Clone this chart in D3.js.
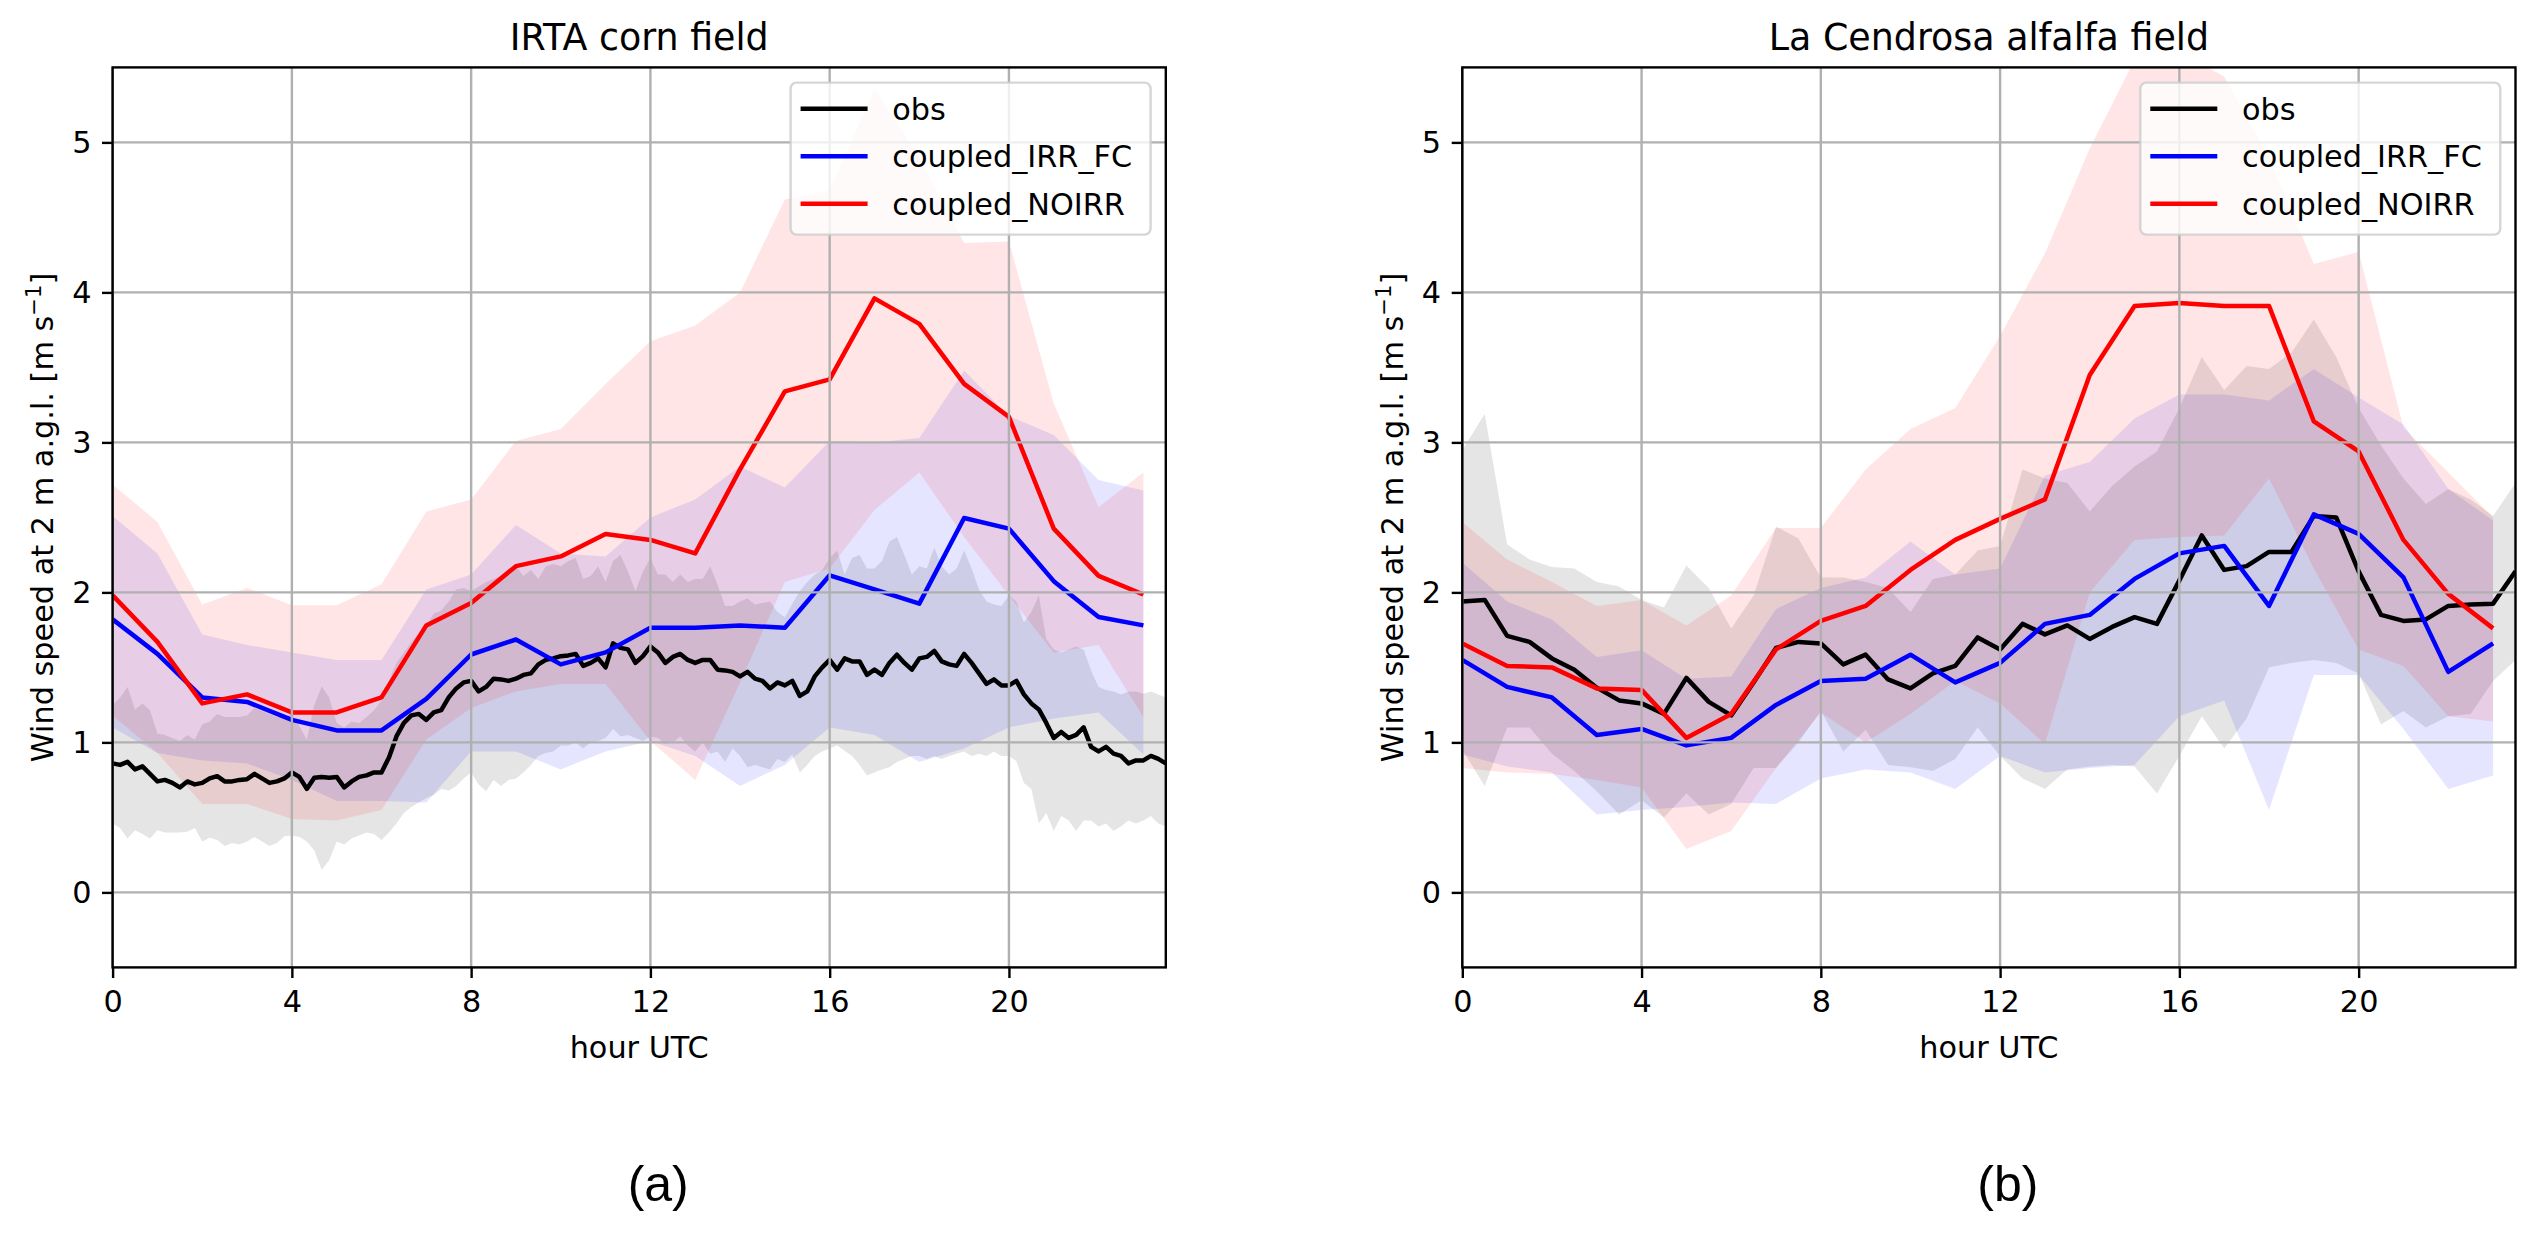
<!DOCTYPE html>
<html>
<head>
<meta charset="utf-8">
<script src="https://cdn.jsdelivr.net/npm/d3@7"></script>
<style>
  body { margin: 0; background: #fff; }
  svg { display: block; }
  text { font-family: "DejaVu Sans", sans-serif; fill: #000; }
</style>
</head>
<body>
<svg id="chart" width="2538" height="1233"></svg>
<script>
// ---- data ----
const seriesNames = ["obs", "coupled_IRR_FC", "coupled_NOIRR"];
const xTicks = [0, 4, 8, 12, 16, 20];
const yTicks = [0, 1, 2, 3, 4, 5];

// (a) IRTA corn field -- obs every 10 min, models hourly
const obsA = [
  0.86, 0.85, 0.87, 0.82, 0.84, 0.79, 0.74, 0.75, 0.73, 0.70,
  0.74, 0.72, 0.73, 0.76, 0.775, 0.74, 0.74, 0.75, 0.755, 0.79,
  0.76, 0.73, 0.74, 0.76, 0.80, 0.77, 0.69, 0.765, 0.77, 0.765,
  0.77, 0.70, 0.74, 0.77, 0.78, 0.80, 0.80, 0.90, 1.04, 1.13,
  1.18, 1.19, 1.15, 1.20, 1.215, 1.30, 1.36, 1.40, 1.41, 1.34,
  1.37, 1.425, 1.42, 1.41, 1.425, 1.45, 1.46, 1.52, 1.55, 1.56,
  1.575, 1.58, 1.59, 1.51, 1.53, 1.56, 1.50, 1.66, 1.63, 1.62,
  1.53, 1.575, 1.64, 1.60, 1.53, 1.57, 1.59, 1.55, 1.53, 1.55,
  1.55, 1.485, 1.48, 1.47, 1.44, 1.47, 1.425, 1.41, 1.36, 1.40,
  1.38, 1.41, 1.31, 1.34, 1.44, 1.50, 1.55, 1.485, 1.56, 1.54,
  1.54, 1.45, 1.485, 1.45, 1.53, 1.585, 1.53, 1.485, 1.56, 1.57,
  1.61, 1.54, 1.52, 1.51, 1.59, 1.53, 1.46, 1.39, 1.42, 1.38,
  1.38, 1.41, 1.32, 1.26, 1.22, 1.13, 1.03, 1.07, 1.03, 1.05,
  1.10, 0.97, 0.94, 0.97, 0.925, 0.91, 0.86, 0.88, 0.88, 0.91,
  0.89, 0.86
];
const obsHiA = [
  1.25, 1.30, 1.37, 1.22, 1.26, 1.215, 1.06, 1.05, 1.03, 1.01,
  1.05, 1.02, 1.12, 1.14, 1.19, 1.17, 1.17, 1.17, 1.18, 1.23,
  1.21, 1.19, 1.17, 1.17, 1.19, 1.11, 1.02, 1.25, 1.375, 1.30,
  1.13, 1.10, 1.14, 1.13, 1.17, 1.215, 1.28, 1.415, 1.53, 1.60,
  1.67, 1.73, 1.78, 1.86, 1.88, 1.94, 2.02, 2.03, 2.01, 2.04,
  2.07, 2.09, 2.11, 2.13, 2.175, 2.11, 2.15, 2.09, 2.175, 2.19,
  2.175, 2.21, 2.23, 2.09, 2.11, 2.175, 2.07, 2.21, 2.25, 2.14,
  2.01, 2.14, 2.23, 2.12, 2.12, 2.07, 2.12, 2.07, 2.09, 2.09,
  2.175, 2.05, 1.91, 1.91, 1.94, 1.96, 1.92, 1.93, 1.94, 1.87,
  1.835, 1.925, 2.01, 2.07, 2.12, 2.15, 2.23, 2.28, 2.12, 2.23,
  2.25, 2.16, 2.16, 2.21, 2.34, 2.37, 2.25, 2.12, 2.175, 2.16,
  2.30, 2.175, 2.12, 2.16, 2.28, 2.16, 2.02, 1.94, 1.92, 1.91,
  1.98, 1.94, 1.80, 1.87, 1.98, 1.69, 1.62, 1.60, 1.62, 1.64,
  1.62, 1.48, 1.37, 1.35, 1.34, 1.32, 1.34, 1.34, 1.325, 1.34,
  1.32, 1.30
];
const obsLoA = [
  0.46, 0.43, 0.36, 0.415, 0.39, 0.36, 0.415, 0.40, 0.40, 0.40,
  0.405, 0.43, 0.34, 0.365, 0.35, 0.31, 0.33, 0.32, 0.34, 0.37,
  0.34, 0.31, 0.33, 0.375, 0.38, 0.37, 0.34, 0.28, 0.15, 0.215,
  0.34, 0.32, 0.36, 0.38, 0.40, 0.39, 0.35, 0.40, 0.46, 0.53,
  0.57, 0.60, 0.63, 0.65, 0.69, 0.68, 0.71, 0.76, 0.80, 0.72,
  0.675, 0.75, 0.71, 0.75, 0.76, 0.80, 0.85, 0.91, 0.93, 0.94,
  0.98, 0.98, 1.00, 0.96, 1.00, 1.01, 1.03, 1.09, 1.04, 1.05,
  1.03, 1.01, 1.04, 1.03, 0.99, 1.00, 1.04, 0.98, 0.94, 1.00,
  0.925, 0.94, 0.87, 0.96, 0.91, 0.835, 0.85, 0.835, 0.82, 0.89,
  0.87, 0.92, 0.80, 0.85, 0.91, 0.94, 0.96, 0.98, 0.945, 0.91,
  0.85, 0.78, 0.80, 0.82, 0.835, 0.87, 0.89, 0.91, 0.91, 0.89,
  0.91, 0.89, 0.91, 0.925, 0.94, 0.91, 0.925, 0.91, 0.94, 0.91,
  0.91, 0.875, 0.73, 0.69, 0.46, 0.53, 0.41, 0.51, 0.48, 0.41,
  0.48, 0.48, 0.44, 0.46, 0.41, 0.44, 0.48, 0.46, 0.48, 0.51,
  0.46, 0.44
];
const irrA     = [1.82, 1.59, 1.30, 1.27, 1.15, 1.08, 1.08, 1.29, 1.586, 1.686, 1.52, 1.60, 1.764, 1.764, 1.78, 1.764, 2.114, 2.02, 1.925, 2.496, 2.425, 2.075, 1.836, 1.78];
const irrHiA   = [2.51, 2.26, 1.72, 1.65, 1.60, 1.55, 1.55, 2.02, 2.12, 2.45, 2.26, 2.24, 2.50, 2.62, 2.84, 2.70, 3.01, 3.00, 3.03, 3.48, 3.175, 3.05, 2.75, 2.68];
const irrLoA   = [1.10, 0.93, 0.88, 0.86, 0.75, 0.61, 0.61, 0.60, 0.94, 0.94, 0.82, 0.94, 1.01, 0.91, 0.71, 0.85, 1.10, 1.05, 0.87, 0.96, 1.10, 1.16, 1.20, 0.92];
const noirrA   = [1.98, 1.67, 1.26, 1.32, 1.20, 1.20, 1.30, 1.78, 1.93, 2.175, 2.24, 2.39, 2.35, 2.26, 2.82, 3.34, 3.42, 3.96, 3.79, 3.39, 3.17, 2.425, 2.11, 1.986];
const noirrHiA = [2.72, 2.47, 1.92, 2.03, 1.915, 1.915, 2.055, 2.54, 2.62, 3.01, 3.09, 3.39, 3.675, 3.78, 4.00, 4.62, 4.68, 5.36, 4.90, 4.33, 4.34, 3.26, 2.57, 2.80];
const noirrLoA = [1.18, 0.93, 0.59, 0.59, 0.49, 0.48, 0.55, 1.02, 1.23, 1.34, 1.39, 1.39, 1.01, 0.75, 1.40, 2.07, 2.16, 2.55, 2.80, 2.37, 1.98, 1.60, 1.65, 1.17];

// (b) La Cendrosa alfalfa field -- obs every 30 min, models hourly
const obsB = [
  1.94, 1.95, 1.71, 1.67, 1.56, 1.485, 1.365, 1.28, 1.26, 1.19,
  1.43, 1.27, 1.18, 1.40, 1.63, 1.67, 1.66, 1.52, 1.585, 1.42,
  1.36, 1.46, 1.51, 1.70, 1.62, 1.79, 1.72, 1.78, 1.69, 1.77,
  1.835, 1.79, 2.08, 2.38, 2.15, 2.175, 2.27, 2.27, 2.51, 2.50,
  2.14, 1.85, 1.81, 1.82, 1.91, 1.92, 1.925, 2.14
];
const obsHiB = [
  2.95, 3.19, 2.32, 2.22, 2.17, 2.16, 2.07, 2.04, 1.95, 1.90,
  2.18, 2.03, 1.76, 1.98, 2.44, 2.36, 2.10, 2.10, 2.07, 2.03,
  1.87, 2.09, 2.12, 2.28, 2.31, 2.82, 2.76, 2.73, 2.54, 2.71,
  2.84, 2.94, 3.23, 3.57, 3.35, 3.51, 3.49, 3.60, 3.82, 3.57,
  3.23, 2.98, 2.76, 2.59, 2.69, 2.62, 2.51, 2.73
];
const obsLoB = [
  0.95, 0.71, 1.10, 1.10, 0.925, 0.81, 0.675, 0.52, 0.615, 0.50,
  0.66, 0.52, 0.59, 0.83, 0.83, 1.00, 1.21, 0.94, 1.085, 0.85,
  0.835, 0.81, 0.89, 1.10, 0.91, 0.76, 0.69, 0.82, 0.84, 0.85,
  0.84, 0.66, 0.91, 1.175, 0.96, 1.16, 1.50, 1.53, 1.55, 1.53,
  1.46, 1.12, 1.21, 1.10, 1.175, 1.19, 1.41, 1.55
];
const irrB     = [1.55, 1.37, 1.30, 1.05, 1.09, 0.98, 1.03, 1.25, 1.41, 1.425, 1.585, 1.40, 1.53, 1.79, 1.85, 2.09, 2.26, 2.31, 1.91, 2.52, 2.39, 2.10, 1.47, 1.66];
const irrHiB   = [2.20, 1.94, 1.82, 1.57, 1.615, 1.425, 1.44, 1.89, 2.03, 2.10, 2.34, 2.12, 2.16, 2.78, 2.87, 3.16, 3.32, 3.32, 3.28, 3.49, 3.30, 3.12, 2.69, 2.48];
const irrLoB   = [0.92, 0.84, 0.80, 0.52, 0.55, 0.57, 0.60, 0.59, 0.76, 0.82, 0.80, 0.69, 0.91, 0.80, 0.83, 0.85, 1.175, 1.28, 0.55, 1.45, 1.45, 1.09, 0.69, 0.78];
const noirrB   = [1.66, 1.51, 1.50, 1.36, 1.35, 1.03, 1.19, 1.62, 1.81, 1.91, 2.15, 2.35, 2.49, 2.62, 3.45, 3.91, 3.93, 3.91, 3.91, 3.14, 2.94, 2.35, 1.99, 1.76];
const noirrHiB = [2.47, 2.22, 2.07, 1.91, 1.95, 1.78, 1.98, 2.43, 2.43, 2.82, 3.09, 3.23, 3.71, 4.26, 4.96, 5.55, 5.60, 5.44, 4.90, 4.19, 4.27, 3.10, 2.80, 2.50];
const noirrLoB = [0.83, 0.80, 0.79, 0.75, 0.70, 0.29, 0.41, 0.83, 1.20, 1.00, 1.19, 1.41, 1.26, 0.99, 2.00, 2.35, 2.37, 2.38, 2.76, 2.16, 1.62, 1.51, 1.175, 1.14];

const modelHours = d3.range(irrA.length);
const obsHoursA = obsA.map((d, i) => i / 6);
const obsHoursB = obsB.map((d, i) => i / 2);

// ---- layout (px) ----
const FS = 30.3;          // 10 pt
const TICK = 10.6;        // 3.5 pt
const LW_AX = 2.4;        // 0.8 pt
const LW = 4.5;           // 1.5 pt
const AX_W = 1053.2;
const AX_TOP = 67.4, AX_BOT = 967.4;

const svg = d3.select("#chart");
const y = d3.scaleLinear().domain([-0.5, 5.5]).range([AX_BOT, AX_TOP]);

function drawPanel(p) {
  const x = d3.scaleLinear().domain([0, 23.5]).range([p.left, p.left + AX_W]);
  const g = svg.append("g");

  svg.append("clipPath").attr("id", "clip-" + p.key)
    .append("rect")
    .attr("x", p.left).attr("y", AX_TOP)
    .attr("width", AX_W).attr("height", AX_BOT - AX_TOP);

  const plot = g.append("g").attr("clip-path", `url(#clip-${p.key})`);

  const series = [
    { xs: p.obsHours, v: p.obs, lo: p.obsLo, hi: p.obsHi, color: "#000000" },
    { xs: modelHours, v: p.irr, lo: p.irrLo, hi: p.irrHi, color: "#0000ff" },
    { xs: modelHours, v: p.noirr, lo: p.noirrLo, hi: p.noirrHi, color: "#ff0000" }
  ];

  // shaded ranges (below grid, like matplotlib patches)
  series.forEach(s => {
    const area = d3.area()
      .x((d, i) => x(s.xs[i]))
      .y0((d, i) => y(s.lo[i]))
      .y1((d, i) => y(s.hi[i]));
    plot.append("path")
      .datum(s.v)
      .attr("d", area)
      .attr("fill", s.color)
      .attr("fill-opacity", 0.1);
  });

  // grid
  const grid = g.append("g").attr("stroke", "#b0b0b0").attr("stroke-width", LW_AX);
  xTicks.forEach(t => grid.append("line")
    .attr("x1", x(t)).attr("x2", x(t)).attr("y1", AX_TOP).attr("y2", AX_BOT));
  yTicks.forEach(t => grid.append("line")
    .attr("x1", p.left).attr("x2", p.left + AX_W).attr("y1", y(t)).attr("y2", y(t)));

  // lines
  series.forEach(s => {
    const line = d3.line().x((d, i) => x(s.xs[i])).y(d => y(d));
    plot.append("path")
      .datum(s.v)
      .attr("d", line)
      .attr("fill", "none")
      .attr("stroke", s.color)
      .attr("stroke-width", LW)
      .attr("stroke-linejoin", "round");
  });

  // axes
  const xAxis = g.append("g")
    .attr("transform", `translate(0,${AX_BOT})`)
    .call(d3.axisBottom(x).tickValues(xTicks).tickSize(TICK).tickPadding(12.5).tickFormat(d3.format("d")));
  const yAxis = g.append("g")
    .attr("transform", `translate(${p.left},0)`)
    .call(d3.axisLeft(y).tickValues(yTicks).tickSize(TICK).tickPadding(10.6).tickFormat(d3.format("d")));
  [xAxis, yAxis].forEach(a => {
    a.select(".domain").remove();
    a.selectAll(".tick line").attr("stroke", "#000").attr("stroke-width", LW_AX);
    a.selectAll(".tick text")
      .attr("font-family", "DejaVu Sans")
      .attr("font-size", FS)
      .attr("fill", "#000");
  });

  // spines
  g.append("rect")
    .attr("x", p.left).attr("y", AX_TOP)
    .attr("width", AX_W).attr("height", AX_BOT - AX_TOP)
    .attr("fill", "none").attr("stroke", "#000").attr("stroke-width", LW_AX);

  // title and labels
  const cx = p.left + AX_W / 2;
  g.append("text").attr("x", cx).attr("y", 50)
    .attr("text-anchor", "middle").attr("font-size", 36.4).text(p.title);
  g.append("text").attr("x", cx).attr("y", 1058)
    .attr("text-anchor", "middle").attr("font-size", FS).text("hour UTC");

  const yl = g.append("text")
    .attr("transform", `translate(${p.left - 59.6},${(AX_TOP + AX_BOT) / 2}) rotate(-90)`)
    .attr("text-anchor", "middle").attr("font-size", FS);
  yl.append("tspan").text("Wind speed at 2 m a.g.l. [m s");
  yl.append("tspan").attr("font-size", FS * 0.7).attr("dy", -12).text("\u22121");
  yl.append("tspan").attr("dy", 12).text("]");

  g.append("text").attr("x", cx + 19).attr("y", 1201)
    .attr("text-anchor", "middle")
    .style("font-family", "'Liberation Sans', Arial, sans-serif")
    .attr("font-size", 50).text(p.tag);

  // legend
  const lx = p.left + AX_W - 15.2 - 360;
  const leg = g.append("g");
  leg.append("rect")
    .attr("x", lx).attr("y", AX_TOP + 15.2)
    .attr("width", 360).attr("height", 152)
    .attr("rx", 6).attr("ry", 6)
    .attr("fill", "#fff").attr("fill-opacity", 0.8)
    .attr("stroke", "#cccccc").attr("stroke-opacity", 0.8).attr("stroke-width", LW_AX);
  seriesNames.forEach((name, k) => {
    const ly = 108.7 + k * 47.5;
    leg.append("line")
      .attr("x1", lx + 10).attr("x2", lx + 77)
      .attr("y1", ly).attr("y2", ly)
      .attr("stroke", series[k].color).attr("stroke-width", LW);
    leg.append("text")
      .attr("x", lx + 101.7).attr("y", ly + 11)
      .attr("font-size", FS).text(name);
  });
}

drawPanel({
  key: "a", left: 112.6, title: "IRTA corn field", tag: "(a)",
  obsHours: obsHoursA, obs: obsA, obsLo: obsLoA, obsHi: obsHiA,
  irr: irrA, irrLo: irrLoA, irrHi: irrHiA,
  noirr: noirrA, noirrLo: noirrLoA, noirrHi: noirrHiA
});
drawPanel({
  key: "b", left: 1462.3, title: "La Cendrosa alfalfa field", tag: "(b)",
  obsHours: obsHoursB, obs: obsB, obsLo: obsLoB, obsHi: obsHiB,
  irr: irrB, irrLo: irrLoB, irrHi: irrHiB,
  noirr: noirrB, noirrLo: noirrLoB, noirrHi: noirrHiB
});
</script>
</body>
</html>
